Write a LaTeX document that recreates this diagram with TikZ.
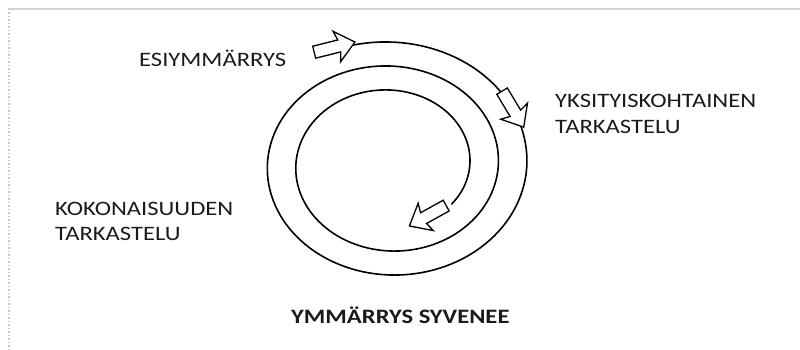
\documentclass[tikz,border=0pt]{standalone}
\usepackage{fontspec}
\setmainfont{Carlito}
\usepackage{graphicx}
\usepackage{tikz}
\usetikzlibrary{shapes.arrows}
\definecolor{ink}{HTML}{1A1A1A}
\newcommand{\wide}[1]{\scalebox{1.2}[1]{#1}}

\begin{document}
\begin{tikzpicture}[
    x=1pt, y=-1pt,
    lbl/.style={font=\fontsize{20.5}{25}\selectfont, text=ink, inner sep=0pt, anchor=base west, align=left},
    blockarrow/.style={single arrow, draw, fill=white, line width=1.3pt, inner sep=5.5pt,
        minimum height=42pt, single arrow head extend=9.5pt, single arrow tip angle=80,
        single arrow head indent=2.5pt}
]
    \useasboundingbox (0,0) rectangle (800,350);
    % frame of the screenshot
    \draw[gray!35, line width=1.5pt] (8,9) -- (800,9);
    \draw[gray!45, dotted, line width=1.5pt] (9,9) -- (9,350);

    % the spiral
    \draw[line width=1.6pt, line cap=round]
        plot[domain=-0.043:2.355, samples=300, variable=\t]
        ({390 + (144 - 28.5*\t)*sin(360*\t)}, {164.5 - (122.5 - 24*\t)*cos(360*\t)});

    % block arrows on the spiral
    \node[blockarrow, rotate=14] (pre) at (331,48) {};
    \node[blockarrow, rotate=-59] (detail) at (511,106) {};
    \node[blockarrow, rotate=209] (whole) at (431,214) {};

    % labels
    \node[lbl] (esiymm) at (139,67) {\wide{ESIYMMÄRRYS}};
    \node[lbl] (yksit) at (555,133) {\wide{YKSITYISKOHTAINEN}\\\wide{TARKASTELU}};
    \node[lbl] (kokon) at (55,240) {\wide{KOKONAISUUDEN}\\\wide{TARKASTELU}};
    \node[lbl, font=\fontsize{20.5}{25}\selectfont\bfseries] (syvenee) at (291,323) {\wide{YMMÄRRYS SYVENEE}};
\end{tikzpicture}
\end{document}
